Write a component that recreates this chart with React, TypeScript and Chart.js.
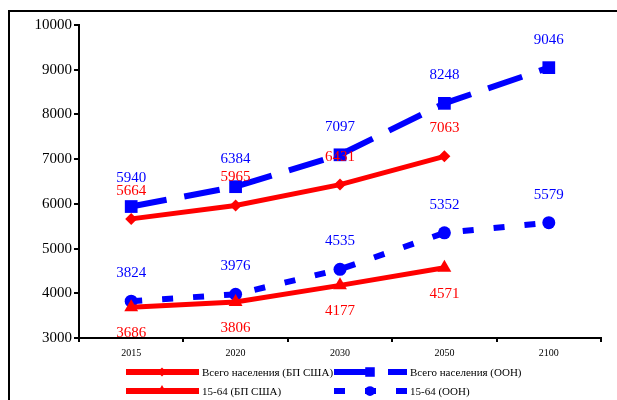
import React, { useEffect, useRef } from "react";
import { Chart, registerables } from "chart.js";

Chart.register(...registerables);

// Population projections, thousands
const years = ["2015", "2020", "2030", "2050", "2100"];
const totalCensus = [5664, 5965, 6431, 7063, null];
const totalUN = [5940, 6384, 7097, 8248, 9046];
const workingCensus = [3686, 3806, 4177, 4571, null];
const workingUN = [3824, 3976, 4535, 5352, 5579];

const seriesNames = [
  "Всего населения (БП США)",
  "Всего населения (ООН)",
  "15-64 (БП США)",
  "15-64 (ООН)",
];

const yMin = 3000;
const yMax = 10000;
const yStep = 1000;

const RED = "#ff0000";
const BLUE = "#0000ff";
const SERIF = "'Liberation Serif', 'Times New Roman', Times, serif";

// label offset from the point (negative = above)
const labelOffsets = [-28, -28, 26, -28];

function drawMarker(ctx: CanvasRenderingContext2D, style: string, x: number, y: number, r: number) {
  ctx.beginPath();
  if (style === "rectRot") {
    ctx.moveTo(x, y - r);
    ctx.lineTo(x + r, y);
    ctx.lineTo(x, y + r);
    ctx.lineTo(x - r, y);
    ctx.closePath();
  } else if (style === "rect") {
    const s = r * Math.SQRT1_2;
    ctx.rect(x - s, y - s, 2 * s, 2 * s);
  } else if (style === "triangle") {
    ctx.moveTo(x, y - r);
    ctx.lineTo(x + r * 0.866, y + r * 0.5);
    ctx.lineTo(x - r * 0.866, y + r * 0.5);
    ctx.closePath();
  } else {
    ctx.arc(x, y, r, 0, Math.PI * 2);
  }
  ctx.fill();
}

const framePlugin = {
  id: "frame",
  beforeDraw(chart: any) {
    const ctx = chart.ctx;
    ctx.save();
    ctx.strokeStyle = "#000";
    ctx.lineWidth = 2;
    ctx.strokeRect(9, 11, chart.width + 40, chart.height + 40);
    ctx.restore();
  },
};

const valueLabelPlugin = {
  id: "valueLabels",
  afterDatasetsDraw(chart: any) {
    const ctx = chart.ctx;
    ctx.save();
    ctx.font = `15px ${SERIF}`;
    ctx.textAlign = "center";
    ctx.textBaseline = "middle";
    chart.data.datasets.forEach((ds: any, i: number) => {
      const meta = chart.getDatasetMeta(i);
      ctx.fillStyle = ds.borderColor;
      meta.data.forEach((pt: any, j: number) => {
        const v = ds.data[j];
        if (v === null || v === undefined) return;
        ctx.fillText(String(v), pt.x, pt.y + labelOffsets[i]);
      });
    });
    ctx.restore();
  },
};

const legendPlugin = {
  id: "customLegend",
  afterDraw(chart: any) {
    const ctx = chart.ctx;
    const area = chart.chartArea;
    const cols = [126, 334];
    const rows = [area.bottom + 34, area.bottom + 53];
    ctx.save();
    chart.data.datasets.forEach((ds: any, i: number) => {
      const x = cols[i % 2];
      const y = rows[Math.floor(i / 2)];
      const len = 73;
      ctx.strokeStyle = ds.borderColor;
      ctx.lineWidth = 6;
      ctx.setLineDash(ds.borderDash || []);
      ctx.beginPath();
      ctx.moveTo(x, y);
      ctx.lineTo(x + len, y);
      ctx.stroke();
      ctx.setLineDash([]);
      ctx.fillStyle = ds.borderColor;
      drawMarker(ctx, ds.pointStyle, x + 36, y, ds.pointRadius * 0.75);
      ctx.fillStyle = "#000";
      ctx.font = `11px ${SERIF}`;
      ctx.textAlign = "left";
      ctx.textBaseline = "middle";
      ctx.fillText(ds.label, x + len + 3, y + 1);
    });
    ctx.restore();
  },
};

export default function App() {
  const canvasRef = useRef<HTMLCanvasElement | null>(null);

  useEffect(() => {
    if (!canvasRef.current) return;
    const chart = new Chart(canvasRef.current, {
      type: "line",
      data: {
        labels: years,
        datasets: [
          {
            label: seriesNames[0],
            data: totalCensus,
            borderColor: RED,
            backgroundColor: RED,
            borderWidth: 5,
            pointStyle: "rectRot",
            pointRadius: 6,
            pointBorderWidth: 0,
            order: 1,
          },
          {
            label: seriesNames[1],
            data: totalUN,
            borderColor: BLUE,
            backgroundColor: BLUE,
            borderWidth: 6,
            borderDash: [36, 18],
            pointStyle: "rect",
            pointRadius: 9,
            pointBorderWidth: 0,
            order: 2,
          },
          {
            label: seriesNames[2],
            data: workingCensus,
            borderColor: RED,
            backgroundColor: RED,
            borderWidth: 5,
            pointStyle: "triangle",
            pointRadius: 8,
            pointBorderWidth: 0,
            order: 3,
          },
          {
            label: seriesNames[3],
            data: workingUN,
            borderColor: BLUE,
            backgroundColor: BLUE,
            borderWidth: 6,
            borderDash: [11, 20],
            pointStyle: "circle",
            pointRadius: 6.5,
            pointBorderWidth: 0,
            order: 4,
          },
        ],
      },
      options: {
        animation: false,
        responsive: true,
        maintainAspectRatio: false,
        layout: { padding: { top: 25, right: 16, left: 0, bottom: 0 } },
        plugins: {
          legend: { display: false },
          tooltip: { enabled: false },
        },
        scales: {
          x: {
            type: "category",
            offset: true,
            grid: {
              offset: true,
              drawOnChartArea: false,
              drawTicks: true,
              tickLength: 4,
              color: "#000",
              lineWidth: 2,
            },
            border: { display: true, color: "#000", width: 2 },
            ticks: {
              color: "#000",
              padding: 5,
              font: { family: SERIF, size: 10 },
              maxRotation: 0,
            },
            afterFit(scale: any) {
              scale.height = 62;
            },
          },
          y: {
            min: yMin,
            max: yMax,
            grid: {
              drawOnChartArea: false,
              drawTicks: true,
              tickLength: 5,
              color: "#000",
              lineWidth: 2,
            },
            border: { display: true, color: "#000", width: 2 },
            ticks: {
              stepSize: yStep,
              color: "#000",
              padding: 2,
              font: { family: SERIF, size: 15 },
              callback: (v: any) => String(v),
            },
            afterFit(scale: any) {
              scale.width = 79;
            },
          },
        },
      },
      plugins: [framePlugin, valueLabelPlugin, legendPlugin],
    });
    return () => chart.destroy();
  }, []);

  return (
    <div style={{ position: "fixed", left: 0, top: 0, width: 617, height: 400, background: "#fff" }}>
      <canvas ref={canvasRef} />
    </div>
  );
}
